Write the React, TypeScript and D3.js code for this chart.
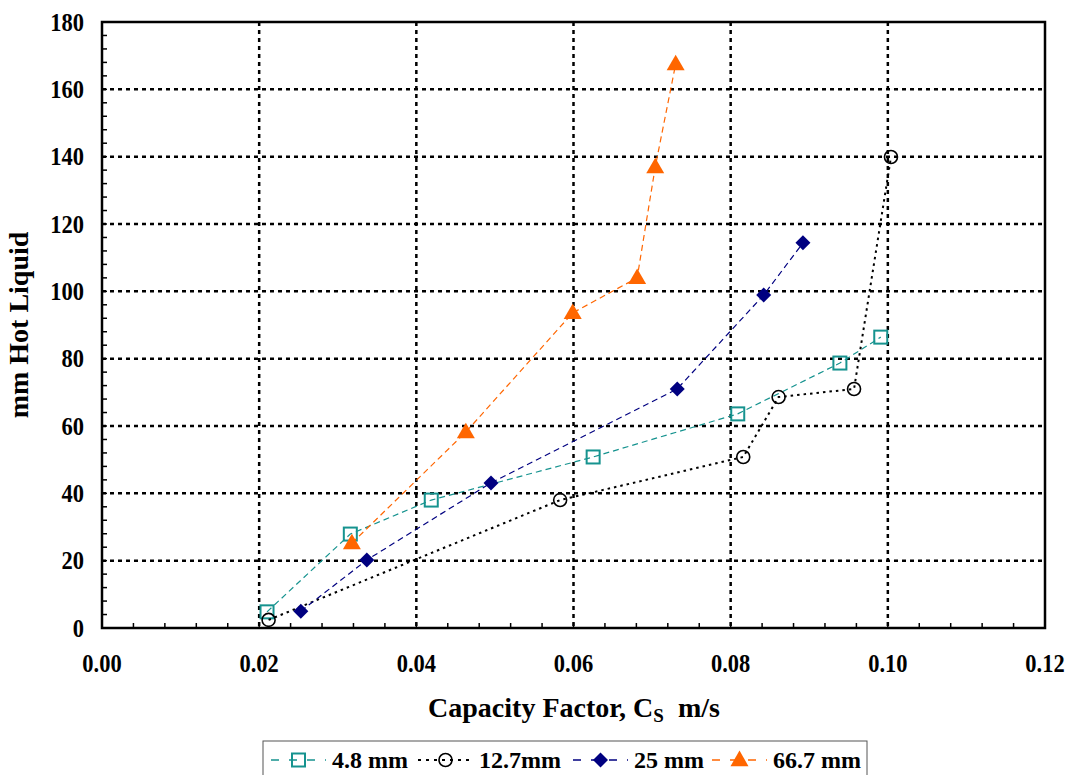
import React, { useEffect, useRef } from "react";
import * as d3 from "d3";

// series (x = capacity factor m/s, y = mm hot liquid)
const series48X = [0.021, 0.0316, 0.0419, 0.0625, 0.0809, 0.0939, 0.0991];
const series48Y = [4.8, 27.9, 38.0, 50.8, 63.6, 78.7, 86.4];
const series127X = [0.0212, 0.0583, 0.0816, 0.0861, 0.0957, 0.1004];
const series127Y = [2.4, 38.0, 50.8, 68.6, 71.0, 139.9];
const series25X = [0.0253, 0.0337, 0.0495, 0.0732, 0.0842, 0.0892];
const series25Y = [5.0, 20.2, 43.1, 71.0, 98.9, 114.4];
const series667X = [0.0318, 0.0463, 0.0599, 0.0681, 0.0704, 0.073];
const series667Y = [25.2, 58.2, 93.6, 104.0, 136.9, 167.5];

const seriesNames = ["4.8 mm", "12.7mm", "25 mm", "66.7 mm"];
const xTicks = [0, 0.02, 0.04, 0.06, 0.08, 0.1, 0.12];
const yTicks = [0, 20, 40, 60, 80, 100, 120, 140, 160, 180];

const FONT = "'Liberation Serif', 'Times New Roman', serif";

const App = () => {
  const ref = useRef<SVGSVGElement>(null);

  useEffect(() => {
    const svg = d3.select(ref.current);
    svg.selectAll("*").remove();

    const margin = { left: 102, right: 1045, top: 22, bottom: 628 };
    const x = d3.scaleLinear().domain([0, 0.12]).range([margin.left, margin.right]);
    const y = d3.scaleLinear().domain([0, 180]).range([margin.bottom, margin.top]);

    const series = [
      { name: seriesNames[0], xs: series48X, ys: series48Y, color: "#16938f", dash: "6,4", marker: "square" },
      { name: seriesNames[1], xs: series127X, ys: series127Y, color: "#000000", dash: "2.5,4", marker: "circle" },
      { name: seriesNames[2], xs: series25X, ys: series25Y, color: "#000080", dash: "6,4", marker: "diamond" },
      { name: seriesNames[3], xs: series667X, ys: series667Y, color: "#ff6600", dash: "6,4", marker: "triangle" },
    ];

    // grid lines (dotted)
    const grid = svg.append("g");
    grid
      .selectAll("line.gx")
      .data(xTicks.slice(1, -1))
      .join("line")
      .attr("x1", (d) => x(d))
      .attr("x2", (d) => x(d))
      .attr("y1", margin.top)
      .attr("y2", margin.bottom)
      .attr("stroke", "#000")
      .attr("stroke-width", 2.5)
      .attr("stroke-dasharray", "4,4");
    grid
      .selectAll("line.gy")
      .data(yTicks.slice(1, -1))
      .enter()
      .append("line")
      .attr("x1", margin.left)
      .attr("x2", margin.right)
      .attr("y1", (d) => y(d))
      .attr("y2", (d) => y(d))
      .attr("stroke", "#000")
      .attr("stroke-width", 2.5)
      .attr("stroke-dasharray", "4,4");

    // minor ticks on the axes (inside)
    const xMinor = d3.range(0, 0.1201, 0.004);
    const yMinor = d3.range(0, 180.1, 4);
    svg
      .append("g")
      .selectAll("line")
      .data(xMinor)
      .join("line")
      .attr("x1", (d) => x(d))
      .attr("x2", (d) => x(d))
      .attr("y1", margin.bottom)
      .attr("y2", margin.bottom - 5)
      .attr("stroke", "#000")
      .attr("stroke-width", 1.5);
    svg
      .append("g")
      .selectAll("line")
      .data(yMinor)
      .join("line")
      .attr("x1", margin.left)
      .attr("x2", margin.left + 5)
      .attr("y1", (d) => y(d))
      .attr("y2", (d) => y(d))
      .attr("stroke", "#000")
      .attr("stroke-width", 1.5);

    // frame
    svg
      .append("rect")
      .attr("x", margin.left)
      .attr("y", margin.top)
      .attr("width", margin.right - margin.left)
      .attr("height", margin.bottom - margin.top)
      .attr("fill", "none")
      .attr("stroke", "#000")
      .attr("stroke-width", 2.5);

    // tick labels (slightly tall glyphs in the reference)
    svg
      .append("g")
      .selectAll("text")
      .data(xTicks)
      .join("text")
      .attr("transform", (d) => `translate(${x(d)}, 672) scale(1, 1.12)`)
      .attr("text-anchor", "middle")
      .attr("font-family", FONT)
      .attr("font-weight", "bold")
      .attr("font-size", 22.5)
      .text((d) => d.toFixed(2));
    svg
      .append("g")
      .selectAll("text")
      .data(yTicks)
      .join("text")
      .attr("transform", (d) => `translate(84, ${y(d) + 8.5}) scale(1, 1.12)`)
      .attr("text-anchor", "end")
      .attr("font-family", FONT)
      .attr("font-weight", "bold")
      .attr("font-size", 22.5)
      .text((d) => d);

    // axis titles
    const xt = svg
      .append("text")
      .attr("x", 574)
      .attr("y", 717)
      .attr("text-anchor", "middle")
      .attr("font-family", FONT)
      .attr("font-weight", "bold")
      .attr("font-size", 28);
    xt.append("tspan").text("Capacity Factor, C");
    xt.append("tspan").attr("font-size", 19).attr("dy", 5).text("S");
    xt.append("tspan").attr("dy", -5).text("\u00a0\u00a0m/s");

    svg
      .append("text")
      .attr("transform", `translate(28, ${(margin.top + margin.bottom) / 2}) rotate(-90)`)
      .attr("text-anchor", "middle")
      .attr("font-family", FONT)
      .attr("font-weight", "bold")
      .attr("font-size", 28)
      .text("mm Hot Liquid");

    const drawMarker = (g, kind, color, cx, cy) => {
      if (kind === "square") {
        g.append("rect")
          .attr("x", cx - 6.5)
          .attr("y", cy - 6.5)
          .attr("width", 13)
          .attr("height", 13)
          .attr("fill", "none")
          .attr("stroke", color)
          .attr("stroke-width", 2);
      } else if (kind === "circle") {
        g.append("circle")
          .attr("cx", cx)
          .attr("cy", cy)
          .attr("r", 6.5)
          .attr("fill", "none")
          .attr("stroke", color)
          .attr("stroke-width", 1.6);
      } else if (kind === "diamond") {
        const h = 7.5;
        g.append("path")
          .attr("d", `M${cx},${cy - h}L${cx + h},${cy}L${cx},${cy + h}L${cx - h},${cy}Z`)
          .attr("fill", color);
      } else {
        g.append("path")
          .attr("d", d3.symbol().type(d3.symbolTriangle).size(140)())
          .attr("transform", `translate(${cx},${cy + 1})`)
          .attr("fill", color);
      }
    };

    const line = d3
      .line<[number, number]>()
      .x((d) => x(d[0]))
      .y((d) => y(d[1]));

    series.forEach((s) => {
      const pts: [number, number][] = s.xs.map((v, i) => [v, s.ys[i]]);
      svg
        .append("path")
        .attr("d", line(pts))
        .attr("fill", "none")
        .attr("stroke", s.color)
        .attr("stroke-width", s.marker === "circle" ? 2 : 1.2)
        .attr("stroke-dasharray", s.dash);
      const g = svg.append("g");
      pts.forEach((p) => drawMarker(g, s.marker, s.color, x(p[0]), y(p[1])));
    });

    // legend
    const legend = svg.append("g");
    legend
      .append("rect")
      .attr("x", 263)
      .attr("y", 741)
      .attr("width", 604)
      .attr("height", 44)
      .attr("fill", "#fff")
      .attr("stroke", "#555")
      .attr("stroke-width", 1);
    const itemX = [271, 418, 573, 712];
    series.forEach((s, i) => {
      const lx = itemX[i];
      const ly = 760;
      legend
        .append("line")
        .attr("x1", lx)
        .attr("x2", lx + 55)
        .attr("y1", ly)
        .attr("y2", ly)
        .attr("stroke", s.color)
        .attr("stroke-width", s.marker === "circle" ? 2 : 1.4)
        .attr("stroke-dasharray", s.marker === "circle" ? "3,5" : "8,10");
      drawMarker(legend, s.marker, s.color, lx + 27.5, ly);
      legend
        .append("text")
        .attr("x", lx + 61)
        .attr("y", 768)
        .attr("font-family", FONT)
        .attr("font-weight", "bold")
        .attr("font-size", 24)
        .text(s.name);
    });
  }, []);

  return (
    <svg
      ref={ref}
      width={1068}
      height={775}
      style={{ position: "absolute", left: 0, top: 0, background: "#fff" }}
    />
  );
};

export default App;
